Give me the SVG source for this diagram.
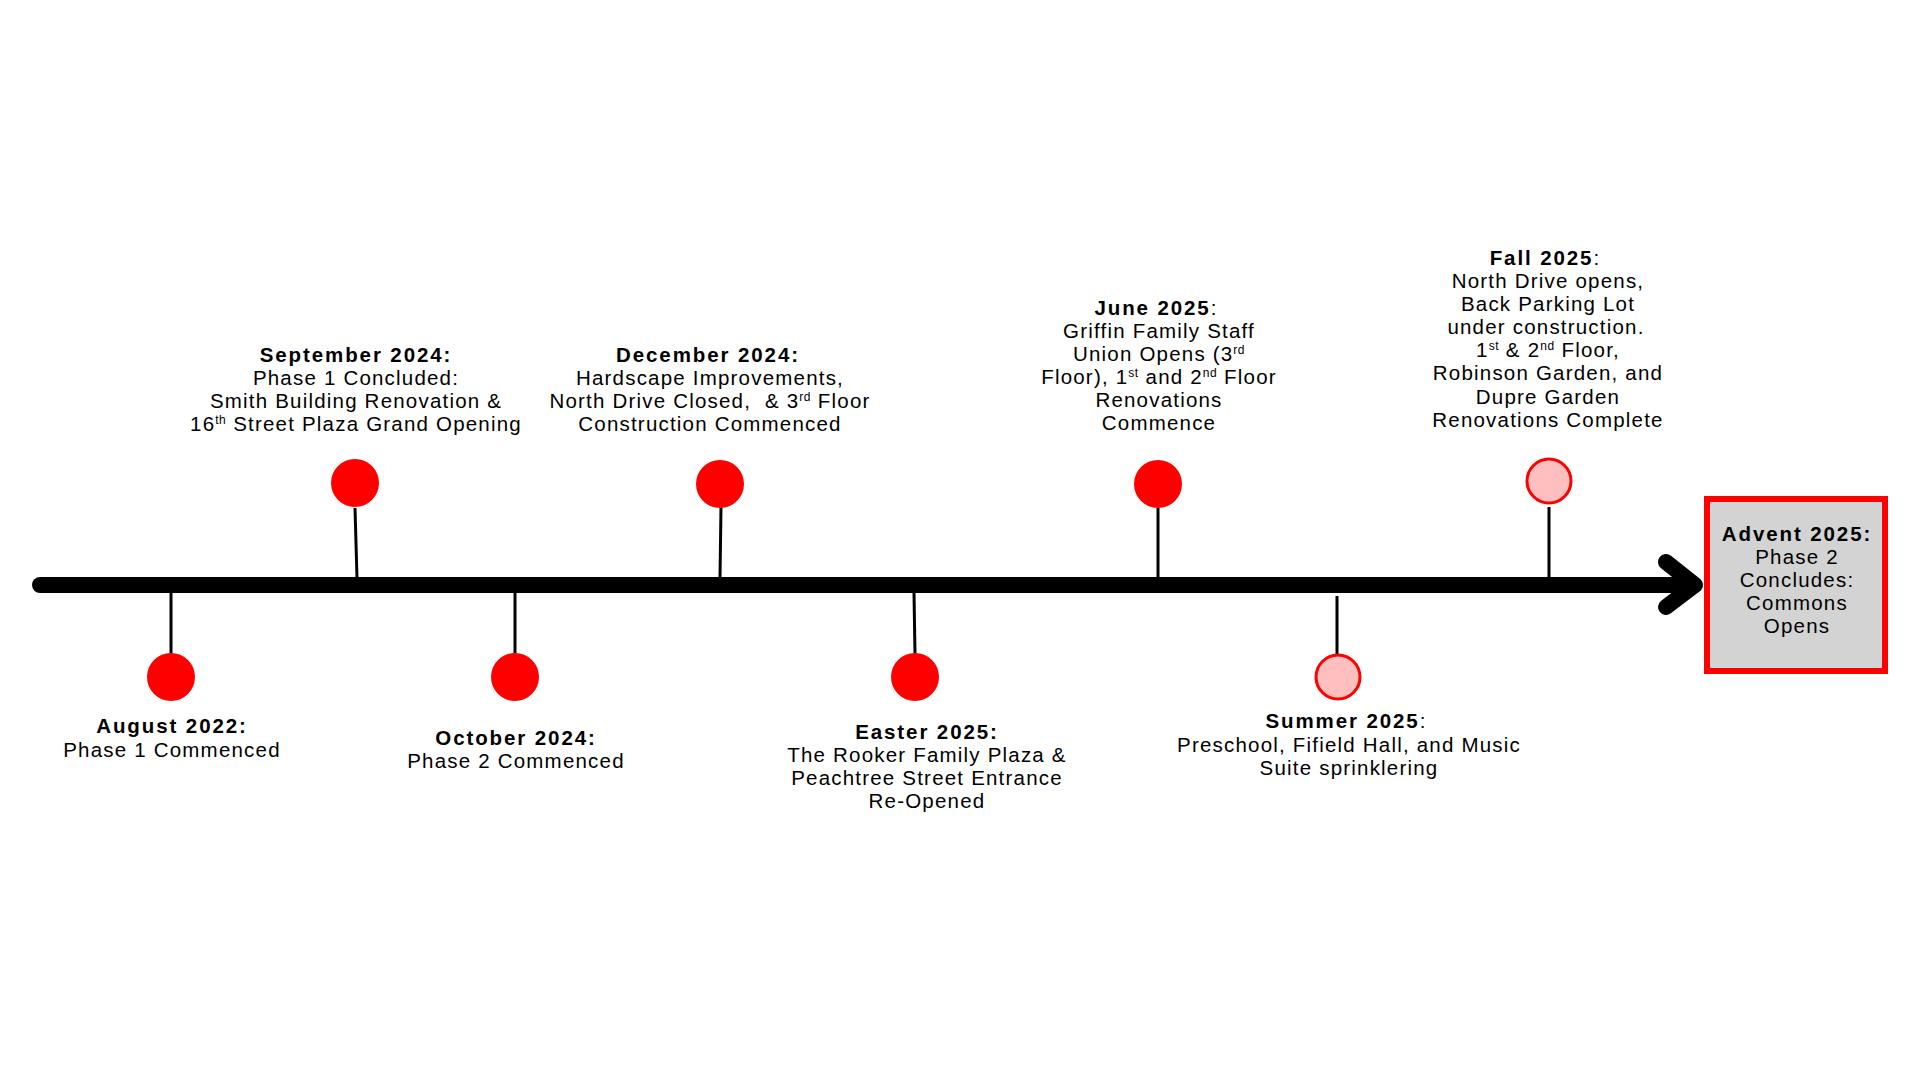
<svg xmlns="http://www.w3.org/2000/svg" width="1920" height="1080" viewBox="0 0 1920 1080">
<style>
text{font-family:"Liberation Sans",Arial,sans-serif;font-size:20.5px;letter-spacing:1.2px;fill:#000;text-anchor:middle}
.b{font-weight:700;letter-spacing:1.9px}
.sup{font-size:12px;letter-spacing:0.5px}
.dot{fill:#ff0000}
.pale{fill:#ffbfbf;stroke:#ff0000;stroke-width:3}
.stem{stroke:#000;stroke-width:3;fill:none}
.axis{stroke:#000;stroke-width:16;stroke-linecap:round;stroke-linejoin:round;fill:none}
.box{fill:#d3d3d3;stroke:#ff0000;stroke-width:6}
</style>
<rect width="1920" height="1080" fill="#ffffff"/>
<g id="connectors">
<line class="axis" x1="40" y1="585" x2="1694" y2="585"/>
<polyline class="axis" points="1666,562 1695,585 1666,607"/>
<line class="stem" x1="171" y1="593" x2="171" y2="654"/>
<line class="stem" x1="355" y1="508" x2="357" y2="578"/>
<line class="stem" x1="515" y1="593" x2="515" y2="654"/>
<line class="stem" x1="721" y1="507" x2="720" y2="578"/>
<line class="stem" x1="914" y1="593" x2="915" y2="654"/>
<line class="stem" x1="1158" y1="508" x2="1158" y2="578"/>
<line class="stem" x1="1337" y1="596" x2="1337" y2="654"/>
<line class="stem" x1="1549" y1="507" x2="1549" y2="578"/>
</g>
<g id="aug2022">
<circle class="dot" cx="171" cy="677" r="24"/>
<text><tspan x="172" y="733" class="b">August 2022:</tspan><tspan x="172" y="757">Phase 1 Commenced</tspan></text>
</g>
<g id="sep2024">
<circle class="dot" cx="355" cy="483" r="24"/>
<text><tspan x="356" y="362" class="b">September 2024:</tspan><tspan x="356" y="385">Phase 1 Concluded:</tspan><tspan x="356" y="408">Smith Building Renovation &amp;</tspan><tspan x="356" y="431">16<tspan class="sup" dy="-7">th</tspan><tspan dy="7"> Street Plaza Grand Opening</tspan></tspan></text>
</g>
<g id="oct2024">
<circle class="dot" cx="515" cy="677" r="24"/>
<text><tspan x="516" y="745" class="b">October 2024:</tspan><tspan x="516" y="768">Phase 2 Commenced</tspan></text>
</g>
<g id="dec2024">
<circle class="dot" cx="720" cy="484" r="24"/>
<text><tspan x="708" y="362" class="b">December 2024:</tspan><tspan x="710" y="385">Hardscape Improvements,</tspan><tspan x="710" y="408" style="white-space:pre">North Drive Closed,  &amp; 3<tspan class="sup" dy="-7">rd</tspan><tspan dy="7"> Floor</tspan></tspan><tspan x="710" y="431">Construction Commenced</tspan></text>
</g>
<g id="easter2025">
<circle class="dot" cx="915" cy="677" r="24"/>
<text><tspan x="927" y="739" class="b">Easter 2025:</tspan><tspan x="927" y="762">The Rooker Family Plaza &amp;</tspan><tspan x="927" y="785">Peachtree Street Entrance</tspan><tspan x="927" y="808">Re-Opened</tspan></text>
</g>
<g id="jun2025">
<circle class="dot" cx="1158" cy="484" r="24"/>
<text><tspan x="1156" y="315"><tspan class="b">June 2025</tspan>:</tspan><tspan x="1159" y="338">Griffin Family Staff</tspan><tspan x="1159" y="361">Union Opens (3<tspan class="sup" dy="-7">rd</tspan></tspan><tspan x="1159" y="384">Floor), 1<tspan class="sup" dy="-7">st</tspan><tspan dy="7"> and 2</tspan><tspan class="sup" dy="-7">nd</tspan><tspan dy="7"> Floor</tspan></tspan><tspan x="1159" y="407">Renovations</tspan><tspan x="1159" y="430">Commence</tspan></text>
</g>
<g id="summer2025">
<circle class="pale" cx="1338" cy="677" r="22"/>
<text><tspan x="1346" y="728"><tspan class="b">Summer 2025</tspan>:</tspan><tspan x="1349" y="752">Preschool, Fifield Hall, and Music</tspan><tspan x="1349" y="775">Suite sprinklering</tspan></text>
</g>
<g id="fall2025">
<circle class="pale" cx="1549" cy="481" r="22"/>
<text><tspan x="1545" y="265"><tspan class="b">Fall 2025</tspan>:</tspan><tspan x="1548" y="288">North Drive opens,</tspan><tspan x="1548" y="311">Back Parking Lot</tspan><tspan x="1546" y="334">under construction.</tspan><tspan x="1548" y="357">1<tspan class="sup" dy="-7">st</tspan><tspan dy="7"> &amp; 2</tspan><tspan class="sup" dy="-7">nd</tspan><tspan dy="7"> Floor,</tspan></tspan><tspan x="1548" y="380">Robinson Garden, and</tspan><tspan x="1548" y="404">Dupre Garden</tspan><tspan x="1548" y="427">Renovations Complete</tspan></text>
</g>
<g id="advent2025">
<rect class="box" x="1707" y="499" width="178" height="172"/>
<text><tspan x="1797" y="541" class="b">Advent 2025:</tspan><tspan x="1797" y="564">Phase 2</tspan><tspan x="1797" y="587">Concludes:</tspan><tspan x="1797" y="610">Commons</tspan><tspan x="1797" y="633">Opens</tspan></text>
</g>
</svg>
